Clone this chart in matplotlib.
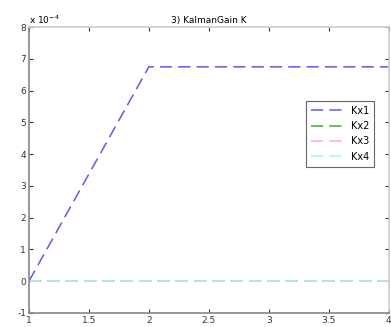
import matplotlib
matplotlib.use("Agg")
import matplotlib.pyplot as plt

plt.rcParams["axes.unicode_minus"] = False

steps = [1, 2, 3, 4]
kx1 = [0.0, 6.75, 6.75, 6.75]
kx2 = [0.0, 0.0, 0.0, 0.0]
kx3 = [0.0, 0.0, 0.0, 0.0]
kx4 = [0.0, 0.0, 0.0, 0.0]
labels = ["Kx1", "Kx2", "Kx3", "Kx4"]
colors = ["#5b5bf0", "#3caa3c", "#ffb4b4", "#a8f5f5"]
title = "3) KalmanGain K"

fig = plt.figure(figsize=(3.91, 3.27), dpi=100)
ax = fig.add_axes([0.074, 0.043, 0.920, 0.874])
for y, lab, c in zip([kx1, kx2, kx3, kx4], labels, colors):
    ax.plot(steps, y, linestyle=(0, (8, 4)), color=c, lw=1.1, label=lab)

ax.set_xlim(1, 4)
ax.set_ylim(-1, 8)
ax.set_xticks([1, 1.5, 2, 2.5, 3, 3.5, 4])
ax.set_xticklabels(["1", "1.5", "2", "2.5", "3", "3.5", "4"])
ax.set_yticks(range(-1, 9))
ax.tick_params(direction="in", length=3, labelsize=6.5, pad=2, colors="#333333",
               top=True, right=True)
for s in ax.spines.values():
    s.set_color("#888888")
    s.set_linewidth(1.2)
ax.spines["top"].set_color("#cccccc")
ax.spines["right"].set_color("#cccccc")
ax.set_title(title, fontsize=6.5, pad=3)
ax.text(0.0, 1.005, r"x 10$^{-4}$", transform=ax.transAxes, fontsize=6.5, va="bottom", ha="left")

leg = ax.legend(loc="upper left", bbox_to_anchor=(0.77, 0.742), fontsize=7,
                fancybox=False, framealpha=1, handlelength=3.6, borderpad=0.5,
                labelspacing=0.55, handletextpad=0.5, borderaxespad=0)
leg.get_frame().set_edgecolor("#666666")
leg.get_frame().set_linewidth(0.8)

fig.savefig("out.png", dpi=100)
